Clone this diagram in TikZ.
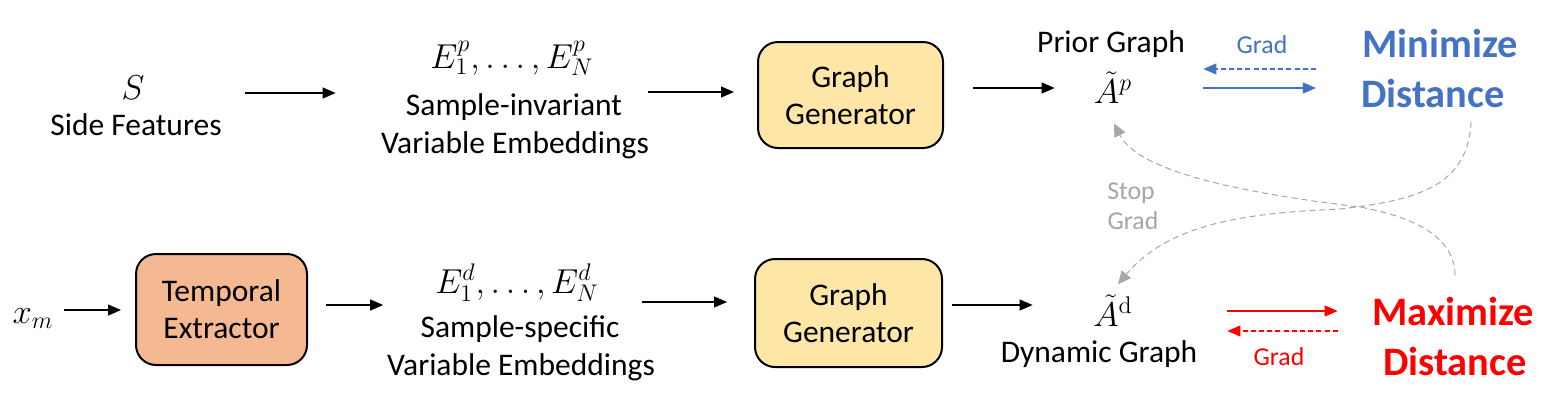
\documentclass[tikz,border=0pt]{standalone}
\usepackage[no-math]{fontspec}
\setmainfont{Carlito}
\usetikzlibrary{arrows.meta,calc}
\definecolor{cblue}{HTML}{4472C4}
\definecolor{cred}{HTML}{FF0000}
\definecolor{cgray}{HTML}{A6A6A6}
\definecolor{cyellow}{HTML}{FEE7A6}
\definecolor{corange}{HTML}{F4B993}
\begin{document}
\begin{tikzpicture}[x=0.5pt,y=-0.5pt,
  txt/.style={font=\fontsize{15.75}{19}\selectfont, inner sep=0pt, anchor=base},
  mth/.style={font=\fontsize{18}{20}\selectfont, inner sep=0pt, anchor=base},
  emb/.style={font=\fontsize{17}{20}\selectfont, inner sep=0pt, anchor=base, minimum width=80pt},
  small/.style={font=\fontsize{12.9}{14}\selectfont, inner sep=0pt, anchor=base},
  big/.style={font=\fontsize{20.2}{24}\selectfont\bfseries, inner sep=0pt, anchor=base},
  box/.style={draw=black, line width=1pt, rounded corners=10pt, align=center, font=\fontsize{15.75}{18.5}\selectfont, inner sep=0pt},
  arr/.style={-{Triangle[length=6.5pt,width=5.5pt]}, line width=0.6pt},
  dsh/.style={dash pattern=on 2.5pt off 1.6pt},
  garr/.style={-{Triangle[length=6.5pt,width=6pt]}, draw=cgray, line width=0.5pt, dash pattern=on 3pt off 2pt},
]
\useasboundingbox (0,0) rectangle (1545,403);
% levels
\coordinate (y1) at (0,93);
\coordinate (y2) at (0,92);
\coordinate (y3) at (0,88);
\coordinate (yb1) at (0,88);
\coordinate (yb2) at (0,69);
\coordinate (z1) at (0,310);
\coordinate (z2) at (0,305);
\coordinate (z3) at (0,302);
\coordinate (z4) at (0,305);
\coordinate (zr1) at (0,311);
\coordinate (zr2) at (0,331);

% top row
\node[mth] (S) at (133,99) {$S$};
\node[txt] (sf) at (136,135) {Side Features};
\node[emb] (epm) at (512,68) {$E_1^p, \ldots, E_N^p$};
\node[txt] (epl1) at (514,115) {Sample-invariant};
\node[txt] (epl2) at (515,153) {Variable Embeddings};
\node[box, fill=cyellow, minimum width=92.5pt, minimum height=53pt] (gg1) at (850.5,95) {Graph\\Generator};
\node[txt] (pg) at (1111,52) {Prior Graph};
\node[mth, minimum width=21pt] (Ap) at (1113,103) {$\tilde{A}^p$};
\node[small, text=cblue] (gradb) at (1262,53) {Grad};
\node[big, text=cblue] (min1) at (1440,57) {Minimize};
\node[big, text=cblue] (min2) at (1433,107) {Distance};

% bottom row
\node[mth, minimum width=25pt] (xm) at (33,323) {$x_m$};
\node[box, fill=corange, minimum width=85.5pt, minimum height=55.5pt] (te) at (221.5,309.5) {Temporal\\Extractor};
\node[emb] (edm) at (517,293) {$E_1^d, \ldots, E_N^d$};
\node[txt] (edl1) at (520,337) {Sample-specific};
\node[txt] (edl2) at (521,375) {Variable Embeddings};
\node[box, fill=cyellow, minimum width=93.5pt, minimum height=54pt] (gg2) at (848.5,313) {Graph\\Generator};
\node[mth, minimum width=21pt] (Ad) at (1113,326) {$\tilde{A}^{\mathrm{d}}$};
\node[txt] (dg) at (1099,362) {Dynamic Graph};
\node[small, text=cred] (gradr) at (1279,365) {Grad};
\node[big, text=cred] (max1) at (1453,325) {Maximize};
\node[big, text=cred] (max2) at (1455,375) {Distance};

\node[small, text=cgray] (stop1) at (1131,199) {Stop};
\node[small, text=cgray] (stop2) at (1133,229) {Grad};

% top arrows
\draw[arr, shorten <=11.5pt, shorten >=22.5pt] (sf.east |- y1) -- (epl2.west |- y1);
\draw[arr, shorten <=27pt, shorten >=11.5pt] (epm.east |- y2) -- (gg1.west |- y2);
\draw[arr, shorten <=14.5pt, shorten >=18.5pt] (gg1.east |- y3) -- (Ap.west |- y3);
\draw[arr, draw=cblue, fill=cblue, shorten <=34.5pt, shorten >=23pt] (Ap.east |- yb1) -- (min1.west |- yb1);
\draw[arr, dsh, draw=cblue, fill=cblue, shorten <=23pt, shorten >=34.5pt] (min1.west |- yb2) -- (Ap.east |- yb2);

% bottom arrows
\draw[arr, shorten <=3pt, shorten >=7pt] (xm.east |- z1) -- (te.west |- z1);
\draw[arr, shorten <=9pt, shorten >=1.75pt] (te.east |- z2) -- (edl2.west |- z2);
\draw[arr, shorten <=21.5pt, shorten >=13.5pt] (edm.east |- z3) -- (gg2.west |- z3);
\draw[arr, shorten <=4.5pt, shorten >=29.5pt] (gg2.east |- z4) -- (Ad.west |- z4);
\draw[arr, draw=cred, fill=cred, shorten <=46.5pt, shorten >=17pt] (Ad.east |- zr1) -- (max1.west |- zr1);
\draw[arr, dsh, draw=cred, fill=cred, shorten <=17pt, shorten >=46.5pt] (max1.west |- zr2) -- (Ad.east |- zr2);

% stop-grad curves
\draw[garr] ($(min2.south)+(38,14)$) .. controls (1468,185) and (1420,200) .. (1340,209)
  .. controls (1250,213) and (1170,222) .. ($(Ad.north)+(5,-10)$);
\draw[garr] ($(max1.north)+(2,-21)$) .. controls (1455,240) and (1420,218) .. (1360,207)
  .. controls (1260,195) and (1140,175) .. ($(Ap.south)+(1,20)$);
\end{tikzpicture}
\end{document}
